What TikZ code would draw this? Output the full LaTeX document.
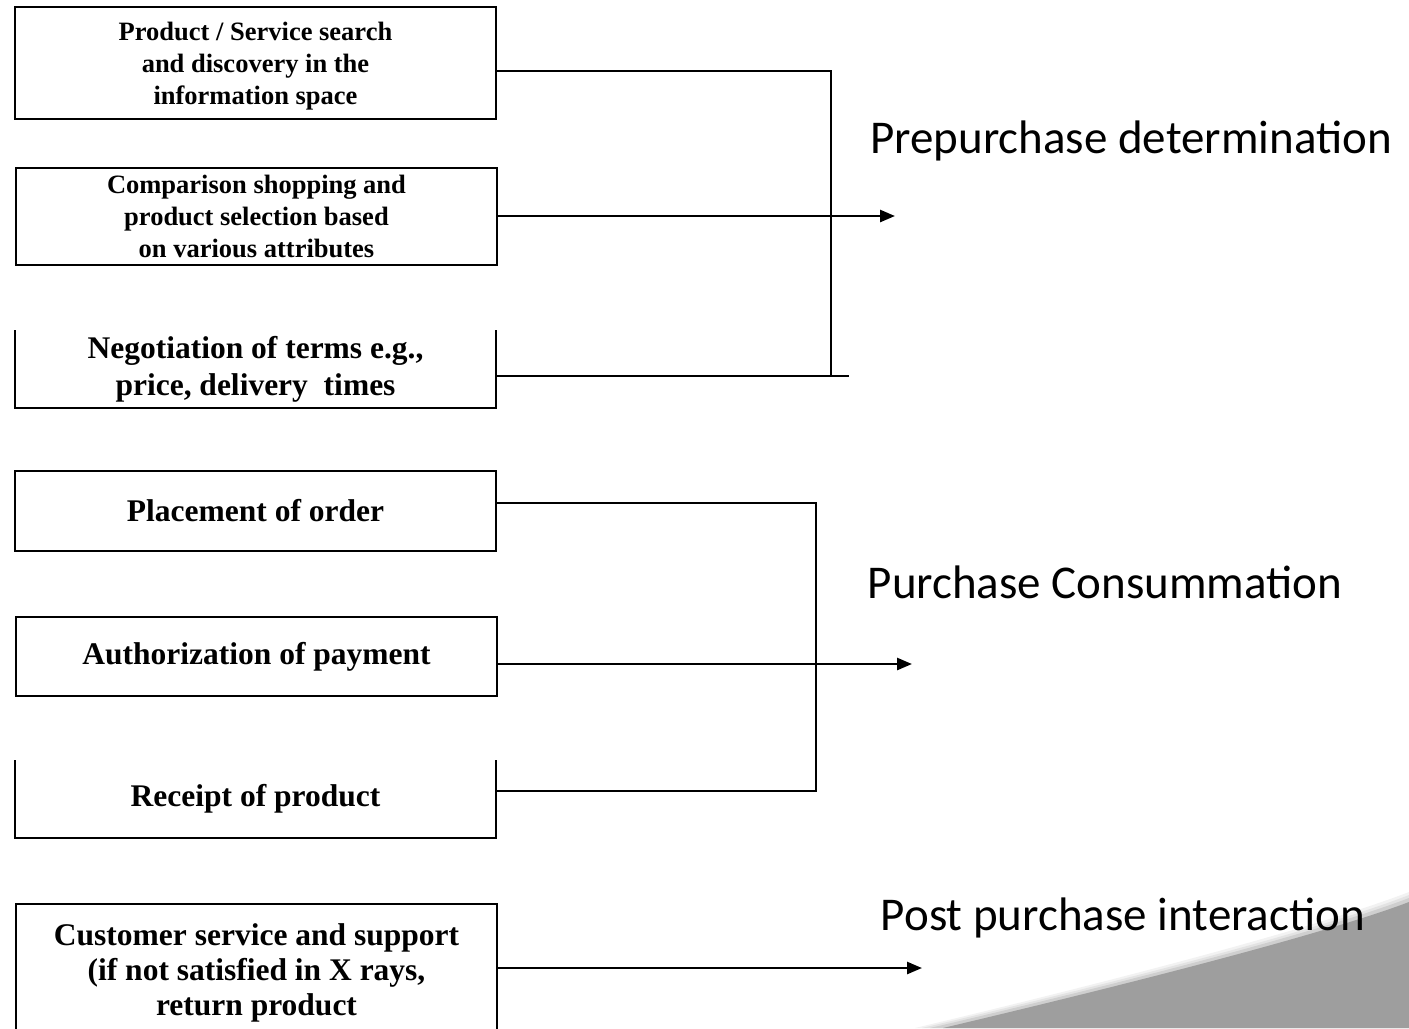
\documentclass[tikz,border=0pt]{standalone}
\usepackage{fontspec}
\setmainfont{Liberation Serif}
\newfontfamily\labelfont{Carlito}
\usetikzlibrary{arrows.meta}
\definecolor{swoosh}{RGB}{158,158,158}
\begin{document}
\begin{tikzpicture}[x=1bp,y=-1bp,
  stepbox/.style={rectangle, draw, line width=2bp, minimum width=481bp,
    inner sep=0pt, outer sep=0pt, align=center, font=\bfseries},
  openbox/.style={rectangle, minimum width=481bp, inner sep=0pt, outer sep=0pt,
    align=center, font=\bfseries},
  small/.style={font=\fontsize{26.5bp}{32bp}\selectfont\bfseries},
  large/.style={font=\fontsize{31.5bp}{37bp}\selectfont\bfseries},
  link/.style={line width=2bp},
  flow/.style={line width=2.6bp, -{Triangle[length=15bp,width=12bp]}},
  phase/.style={font=\fontsize{47bp}{56bp}\selectfont\labelfont, anchor=center}]
\useasboundingbox (0,0) rectangle (1409,1028);
\clip (0,0) rectangle (1409,1028);

% background swoosh with its soft light rim
\fill[black!5] (915,1028) .. controls (1146,973) and (1326,924) .. (1409,892) -- (1409,1028) -- cycle;
\fill[black!11] (922,1028) .. controls (1147,975) and (1327,927) .. (1409,895) -- (1409,1028) -- cycle;
\fill[black!19] (930,1028) .. controls (1148,977) and (1328,929) .. (1409,898) -- (1409,1028) -- cycle;
\fill[swoosh] (943,1028) .. controls (1150,979) and (1330,932) .. (1409,902) -- (1409,1028) -- cycle;

% prepurchase steps
\node[stepbox, minimum height=112bp] (search) at (255.5,63) {};
\node[small, align=center, inner sep=0pt] (searchtxt) at (255.5,66)
  {Product / Service search\\and discovery in the\\information space};
\node[stepbox, small, minimum height=97bp] (compare) at (256.5,216.5)
  {Comparison shopping and\\product selection based\\on various attributes};
\node[openbox, large, minimum height=78bp] (negot) at (255.5,369)
  {Negotiation of terms e.g.,\\price, delivery\ \ times};
\draw[line width=2bp] (negot.north west) -- (negot.south west) -- (negot.south east) -- (negot.north east);

% purchase steps
\node[stepbox, large, minimum height=80bp] (order) at (255.5,511) {Placement of order};
\node[stepbox, large, minimum height=79bp] (auth) at (256.5,656.5) {Authorization of payment};
\node[openbox, large, minimum height=78bp] (receipt) at (255.5,799) {Receipt of product};
\draw[line width=2bp] (receipt.north west) -- (receipt.south west) -- (receipt.south east) -- (receipt.north east);

% post purchase step
\node[openbox, large, minimum height=138bp, font=\fontsize{31.5bp}{35bp}\selectfont\bfseries] (support) at (256.5,973)
  {Customer service and support\\(if not satisfied in X rays,\\return product};
\draw[line width=2bp] (support.south west) -- (support.north west) -- (support.north east) -- (support.south east);

% phase labels
\node[phase] (pre) at (1131,141) {Prepurchase determination};
\node[phase] (cons) at (1105,582) {Purchase Consummation};
\node[phase] (post) at (1123,918) {Post purchase interaction};

% bracket joints and arrow ends
\coordinate (j1a) at (831,71);
\coordinate (j1b) at (831,376);
\coordinate (j1c) at (849,376);
\coordinate (a1) at (895,216);
\coordinate (j2a) at (816,503);
\coordinate (j2b) at (816,791);
\coordinate (a2) at (912,664);
\coordinate (a3) at (922,968);

% connectors, first group
\draw[link] (search.east |- j1a) -- (j1a) -- (j1b);
\draw[line width=2.6bp] (negot.east |- j1b) -- (j1c);
\draw[flow] (compare.east |- a1) -- (a1);

% connectors, second group
\draw[link] (order.east |- j2a) -- (j2a) -- (j2b) -- (receipt.east |- j2b);
\draw[flow] (auth.east |- a2) -- (a2);

% connector, third group
\draw[flow] (support.east |- a3) -- (a3);
\end{tikzpicture}
\end{document}
